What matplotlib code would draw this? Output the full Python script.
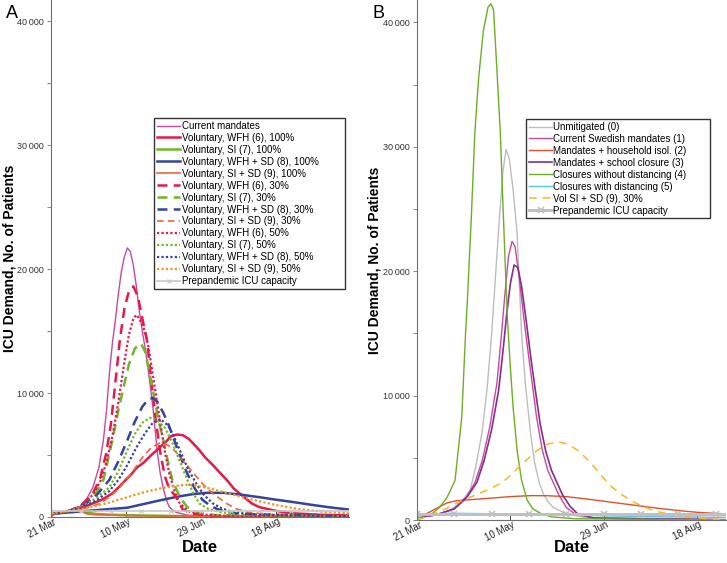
"""ICU demand projections for voluntary measures (A) and mandated measures (B)."""

import matplotlib

matplotlib.use("Agg")
import matplotlib.pyplot as plt
from matplotlib.ticker import FixedLocator, FuncFormatter, MultipleLocator
from matplotlib.transforms import ScaledTranslation

plt.rcParams["font.family"] = ["Liberation Sans", "DejaVu Sans"]

# ---- shared axis data -------------------------------------------------------
TICK_DAYS = [0, 50, 100, 150]
TICK_LABELS = ["21 Mar", "10 May", "29 Jun", "18 Aug"]
ICU_CAPACITY = 500
CAPACITY_DAYS_A = [0, 199]
CAPACITY_DAYS_B = [0, 166]

# ---- panel A: voluntary measures (days since 21 Mar, patients) -------------
current_days = [0, 10, 19, 24, 28, 32, 35, 37, 39, 41, 43, 45, 47, 49, 51, 53, 55, 57, 59, 61,
                63, 65, 68, 71, 73, 75, 77, 79, 83, 91, 110, 199]
current_vals = [250, 400, 800, 1500, 2400, 4000, 6200, 8500, 11600, 14000, 15900, 18000, 19800,
                21000, 21700, 21400, 20300, 18600, 16600, 15000, 13500, 11800, 8900, 5200, 3500,
                2300, 1400, 800, 400, 150, 80, 30]

wfh100_days = [0, 8, 15, 22, 28, 34, 41, 46, 50, 54, 57, 62, 67, 73, 77, 80, 84, 88, 92, 96, 99,
               103, 108, 113, 118, 122, 126, 130, 134, 139, 150, 161, 180, 199]
wfh100_vals = [250, 350, 500, 800, 1100, 1400, 1900, 2500, 3000, 3500, 3950, 4400, 5000, 5650,
               6100, 6500, 6650, 6600, 6300, 5800, 5400, 4800, 4200, 3550, 2900, 2300, 1900, 1500,
               1100, 800, 500, 300, 180, 120]

si100_days = [0, 5, 10, 15, 18, 21, 24, 30, 40, 60, 100, 199]
si100_vals = [250, 350, 450, 550, 600, 500, 350, 250, 180, 120, 60, 20]

wfhsd100_days = [0, 10, 20, 35, 51, 62, 73, 85, 95, 104, 115, 127, 139, 150, 162, 173, 186, 199]
wfhsd100_vals = [250, 350, 450, 600, 750, 1050, 1350, 1650, 1850, 1950, 1950, 1800, 1600, 1400,
                 1200, 1000, 780, 600]

sisd100_days = [0, 3, 6, 10, 14, 18, 21, 24, 30, 50, 100, 199]
sisd100_vals = [0, 300, 400, 400, 500, 600, 400, 250, 180, 120, 60, 30]

wfh30_days = [0, 10, 20, 28, 33, 37, 40, 44, 46, 49, 52, 55, 58, 61, 64, 67, 70, 73, 76, 78, 81,
              84, 88, 95, 110, 199]
wfh30_vals = [250, 400, 900, 1900, 3200, 5200, 7500, 12000, 14300, 16800, 18200, 18600, 17800,
              16000, 14300, 11000, 7800, 5200, 3300, 2600, 2000, 1500, 600, 250, 100, 30]

si30_days = [0, 10, 20, 28, 35, 41, 45, 48, 52, 56, 60, 63, 66, 68, 72, 75, 78, 81, 86, 91, 98,
             110, 199]
si30_vals = [250, 400, 800, 1500, 3000, 6200, 8600, 10200, 12300, 13600, 14000, 13300, 11500,
             10200, 7700, 6200, 4500, 3000, 1600, 800, 350, 150, 30]

wfhsd30_days = [0, 10, 20, 30, 39, 45, 51, 56, 61, 65, 68, 71, 75, 79, 85, 91, 96, 101, 107, 113,
                125, 199]
wfhsd30_vals = [250, 400, 800, 1700, 3000, 4500, 6200, 7700, 8900, 9500, 9600, 9300, 8400, 7300,
                5300, 3500, 2300, 1400, 850, 550, 250, 50]

sisd30_days = [0, 10, 20, 33, 40, 46, 53, 61, 67, 73, 78, 83, 88, 94, 101, 108, 117, 124, 131,
               145, 199]
sisd30_vals = [250, 400, 600, 1100, 1700, 2400, 3400, 4800, 5600, 6000, 5800, 5300, 4600, 3700,
               2700, 1900, 1100, 650, 400, 200, 60]

wfh50_days = [0, 10, 20, 28, 33, 37, 41, 45, 49, 52, 55, 57, 59, 62, 65, 69, 73, 76, 79, 83, 86,
              92, 100, 120, 199]
wfh50_vals = [250, 400, 900, 1800, 2900, 4400, 6500, 9300, 12500, 14700, 16000, 16300, 16000,
              15200, 13800, 10700, 7600, 5300, 3500, 1900, 1100, 450, 200, 80, 30]

si50_days = [0, 10, 20, 30, 39, 45, 51, 56, 61, 66, 71, 76, 81, 86, 91, 95, 99, 105, 113, 125, 199]
si50_vals = [250, 400, 800, 1500, 2400, 3700, 5400, 6700, 7600, 8000, 7800, 7200, 6000, 4500,
             3000, 1900, 1100, 650, 400, 200, 40]

wfhsd50_days = [0, 10, 20, 30, 39, 45, 51, 57, 63, 68, 73, 78, 82, 86, 91, 97, 102, 108, 114, 121,
                135, 199]
wfhsd50_vals = [250, 400, 700, 1300, 2100, 3000, 4200, 5600, 6800, 7600, 7900, 7400, 6500, 5400,
                4000, 2700, 1800, 1100, 700, 400, 200, 50]

sisd50_days = [0, 10, 20, 28, 40, 51, 62, 73, 82, 90, 98, 106, 117, 128, 140, 151, 165, 184, 199]
sisd50_vals = [250, 450, 650, 850, 1200, 1600, 2000, 2300, 2500, 2600, 2500, 2300, 1950, 1600,
               1250, 950, 650, 400, 300]

# ---- panel B: mandated measures --------------------------------------------
unmit_days = [0, 10, 18, 24, 28.5, 31.5, 34.8, 37.5, 40, 42, 44, 46, 47.7, 49.5, 51.5, 53.6, 56,
              58, 60.8, 63, 65.5, 67.7, 70, 73, 80, 90, 166]
unmit_vals = [200, 400, 800, 1500, 2400, 4300, 7000, 10500, 15000, 19500, 24000, 28000, 29800,
              29000, 26500, 23100, 15000, 11000, 7000, 4600, 3000, 2100, 1500, 1000, 500, 200, 20]

swe_days = [0, 10, 20, 26, 31, 35, 39, 42.8, 45, 47, 49, 50.9, 52.5, 54.5, 57, 59.5, 61.7, 64, 67,
            70, 73, 76, 80, 85, 95, 166]
swe_vals = [200, 400, 900, 1700, 3000, 4800, 7500, 11000, 14500, 18000, 21200, 22400, 22000,
            19800, 16500, 13500, 11000, 8300, 5700, 4000, 3000, 2000, 1000, 450, 150, 20]

house_days = [0, 5, 10, 16, 21, 30, 39, 50, 61, 70, 80, 89, 98, 107, 116, 125, 134, 142, 150, 159,
              166]
house_vals = [200, 500, 900, 1370, 1550, 1650, 1750, 1880, 1960, 1950, 1880, 1720, 1550, 1370,
              1200, 1020, 860, 730, 620, 540, 490]

school_days = [0, 10, 20, 27, 32, 36, 40, 43.7, 46, 48, 50, 52, 54, 56, 58.5, 61, 63.4, 66, 69, 72,
               75, 78, 82, 86, 95, 166]
school_vals = [200, 400, 900, 1900, 3000, 4800, 7300, 10400, 13500, 16500, 19000, 20500, 20300,
               18800, 16000, 13000, 10400, 7700, 5500, 4000, 3000, 2000, 1100, 500, 150, 20]

nodist_days = [0, 8, 12, 16, 18, 20.4, 22, 24, 26, 27, 29, 31, 33, 35.5, 38, 39.6, 41, 42.5, 44.6,
               46, 47.3, 48.5, 50, 51.5, 53.6, 56, 59, 62, 66, 72, 85, 166]
nodist_vals = [200, 500, 1000, 1800, 2400, 3200, 5500, 8300, 15000, 17700, 24000, 31200, 35500,
               39300, 41200, 41500, 41000, 37000, 31200, 25500, 20400, 16000, 12300, 9000, 5600,
               3200, 1600, 900, 550, 250, 100, 20]

dist_days = [0, 3, 10, 16, 30, 45, 61, 80, 105, 130, 159, 166]
dist_vals = [0, 400, 500, 540, 520, 490, 460, 400, 320, 260, 220, 210]

volsisd_days = [0, 5, 10, 16, 21, 27, 34, 43, 48, 55, 62, 68, 75, 81, 87, 93, 98, 104, 110, 116,
                120, 126, 132, 140, 148, 159, 166]
volsisd_vals = [0, 250, 560, 950, 1340, 1750, 2170, 2800, 3300, 4300, 5300, 6000, 6300, 6100, 5500,
                4600, 3700, 2700, 2000, 1450, 1150, 800, 560, 350, 190, 60, 30]

GRAY = "#bdbdbd"
PINK = "#c64a9c"
RED = "#e5194a"
GREEN = "#72b52b"
BLUE = "#34439b"
ORANGE = "#f26430"
ORANGE_DOT = "#f7931e"


def style_axes(ax, xmax, ymax, label_x, date_y):
    """MATLAB-like axes: left/bottom spines, grey tick labels."""
    ax.set_xlim(0, xmax)
    ax.set_ylim(0, ymax)
    for side in ("top", "right"):
        ax.spines[side].set_visible(False)
    for side in ("left", "bottom"):
        ax.spines[side].set_color("#6e6e6e")
        ax.spines[side].set_linewidth(0.8)
    ax.xaxis.set_major_locator(FixedLocator(TICK_DAYS))
    ax.yaxis.set_major_locator(MultipleLocator(10000))
    ax.yaxis.set_minor_locator(MultipleLocator(5000))
    ax.yaxis.set_major_formatter(
        FuncFormatter(lambda v, _: f"{int(v):,}".replace(",", "\u2009"))
    )
    ax.tick_params(axis="x", direction="in", length=4, width=0.7, color="#444444",
                   labelsize=7, pad=3, labelcolor="#222222")
    ax.tick_params(axis="y", which="both", direction="out", length=3, width=0.7,
                   color="#888888", labelsize=6.5, labelcolor="#333333", pad=2)
    ax.set_xticklabels(TICK_LABELS, rotation=27, ha="right", va="center",
                       rotation_mode="anchor")
    shift = ScaledTranslation(0.04, 0, ax.figure.dpi_scale_trans)
    for lbl in ax.get_xticklabels():
        lbl.set_transform(lbl.get_transform() + shift)
    ax.set_xlabel("Date", fontsize=12, fontweight="bold")
    ax.xaxis.set_label_coords(0.5, date_y)
    ax.set_ylabel("ICU Demand, No. of Patients", fontsize=10, fontweight="bold")
    ax.yaxis.set_label_coords(label_x, 0.5)


fig = plt.figure(figsize=(7.27, 5.63), dpi=100)
W, H = 727, 563
ax_a = fig.add_axes([51 / W, (H - 517) / H, 298 / W, 517 / H])
ax_b = fig.add_axes([417 / W, (H - 520) / H, 309 / W, 520 / H])

# ---- panel A ----
ax_a.plot(current_days, current_vals, color=PINK, lw=1.0, label="Current mandates")
ax_a.plot(wfh100_days, wfh100_vals, color=RED, lw=1.8, label="Voluntary, WFH (6), 100%")
ax_a.plot(si100_days, si100_vals, color=GREEN, lw=1.8, label="Voluntary, SI (7), 100%")
ax_a.plot(wfhsd100_days, wfhsd100_vals, color=BLUE, lw=1.8, label="Voluntary, WFH + SD (8), 100%")
ax_a.plot(sisd100_days, sisd100_vals, color=ORANGE, lw=1.2, label="Voluntary, SI + SD (9), 100%")
ax_a.plot(wfh30_days, wfh30_vals, color=RED, lw=1.8, ls=(0, (4, 2.5)),
          label="Voluntary, WFH (6), 30%")
ax_a.plot(si30_days, si30_vals, color=GREEN, lw=1.8, ls=(0, (4, 2.5)),
          label="Voluntary, SI (7), 30%")
ax_a.plot(wfhsd30_days, wfhsd30_vals, color=BLUE, lw=1.8, ls=(0, (4, 2.5)),
          label="Voluntary, WFH + SD (8), 30%")
ax_a.plot(sisd30_days, sisd30_vals, color=ORANGE, lw=1.2, ls=(0, (4, 2.5)),
          label="Voluntary, SI + SD (9), 30%")
ax_a.plot(wfh50_days, wfh50_vals, color=RED, lw=1.6, ls=(0, (1, 1)),
          label="Voluntary, WFH (6), 50%")
ax_a.plot(si50_days, si50_vals, color=GREEN, lw=1.6, ls=(0, (1, 1)),
          label="Voluntary, SI (7), 50%")
ax_a.plot(wfhsd50_days, wfhsd50_vals, color=BLUE, lw=1.6, ls=(0, (1, 1)),
          label="Voluntary, WFH + SD (8), 50%")
ax_a.plot(sisd50_days, sisd50_vals, color=ORANGE_DOT, lw=1.6, ls=(0, (1, 1)),
          label="Voluntary, SI + SD (9), 50%")
cap_a = range(CAPACITY_DAYS_A[0], CAPACITY_DAYS_A[1] + 1)
ax_a.plot(list(cap_a), [ICU_CAPACITY] * len(cap_a), color="#c8c8c8", lw=1.2, marker="x",
          ms=3, mew=0.8, markevery=20, label="Prepandemic ICU capacity")
style_axes(ax_a, 199, 41700, -0.117, -0.044)
ax_a.legend(loc="upper left", bbox_to_anchor=(154 / W, 1 - 118 / H, 191 / W, 0),
            bbox_transform=fig.transFigure, mode="expand", fontsize=7, frameon=True,
            fancybox=False, edgecolor="#333333", framealpha=1, handlelength=2.4,
            handletextpad=0.2, labelspacing=0.2, borderpad=0.3, borderaxespad=0)

# ---- panel B ----
ax_b.plot(unmit_days, unmit_vals, color=GRAY, lw=1.0, label="Unmitigated (0)")
ax_b.plot(swe_days, swe_vals, color=PINK, lw=1.0, label="Current Swedish mandates (1)")
ax_b.plot(house_days, house_vals, color="#e2502a", lw=1.0, label="Mandates + household isol. (2)")
ax_b.plot(school_days, school_vals, color="#8a2b8e", lw=1.2, label="Mandates + school closure (3)")
ax_b.plot(nodist_days, nodist_vals, color="#6cae25", lw=1.0,
          label="Closures without distancing (4)")
ax_b.plot(dist_days, dist_vals, color="#5ec1ee", lw=1.0, label="Closures with distancing (5)")
ax_b.plot(volsisd_days, volsisd_vals, color="#f9b52a", lw=1.1, ls=(0, (5, 4)),
          label="Vol SI + SD (9), 30%")
cap_b = range(CAPACITY_DAYS_B[0], CAPACITY_DAYS_B[1] + 1)
ax_b.plot(list(cap_b), [ICU_CAPACITY] * len(cap_b), color="#c0c0c0", lw=2.2, marker="x",
          ms=5, mew=1.2, markevery=20, label="Prepandemic ICU capacity")
style_axes(ax_b, 165.5, 41800, -0.115, -0.038)
ax_b.legend(loc="upper left", bbox_to_anchor=(526 / W, 1 - 119 / H, 184 / W, 0),
            bbox_transform=fig.transFigure, mode="expand", fontsize=7, frameon=True,
            fancybox=False, edgecolor="#333333", framealpha=1, handlelength=2.4,
            handletextpad=0.1, labelspacing=0.2, borderpad=0.3, borderaxespad=0)

fig.text(6 / W, 1 - 18 / H, "A", fontsize=13)
fig.text(372 / W, 1 - 18 / H, "B", fontsize=13)

fig.savefig("out.png", dpi=100)
